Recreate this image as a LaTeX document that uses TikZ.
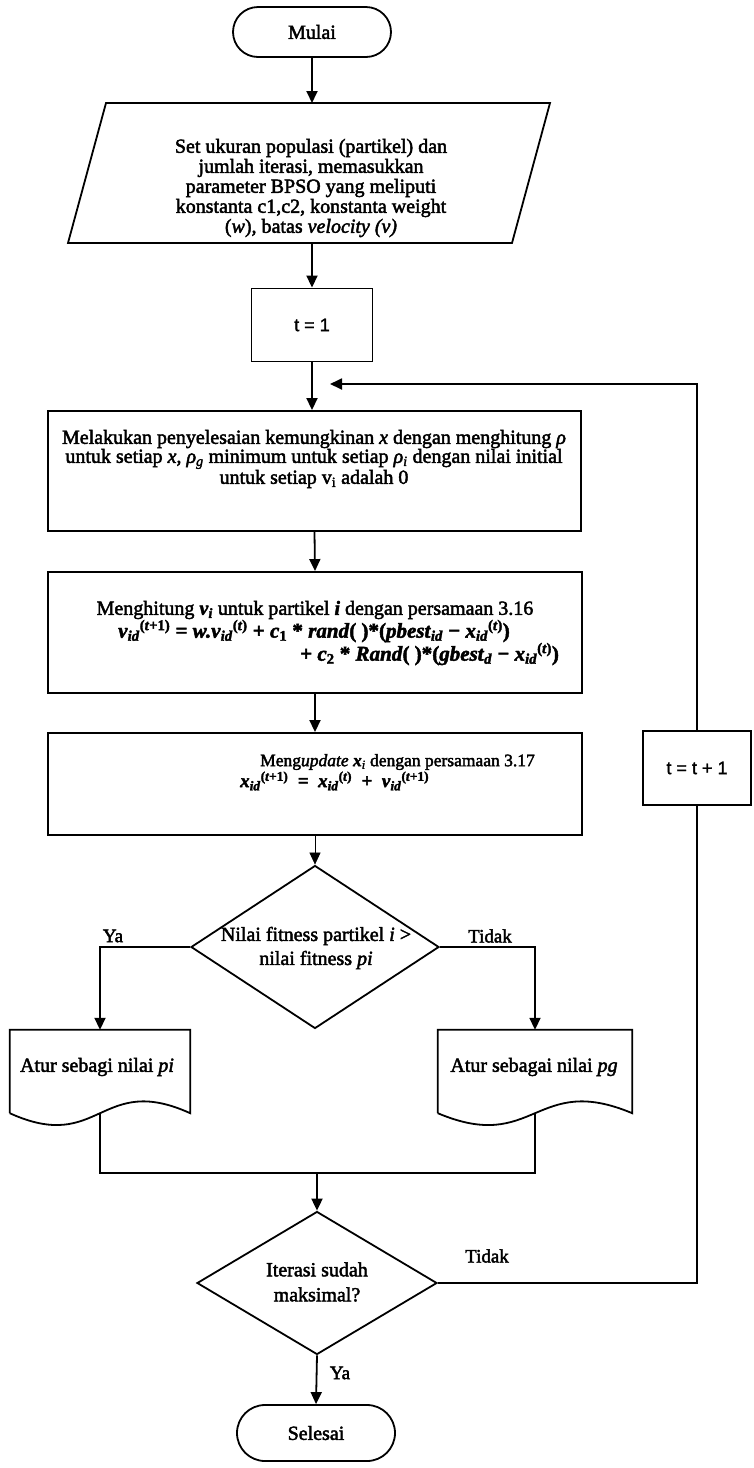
\documentclass[tikz,border=0pt]{standalone}
\usepackage{fontspec}
\setmainfont{Liberation Serif}[FakeBold=2.2]
\newfontfamily\sansA{Liberation Sans}[FakeBold=1.5]
\usetikzlibrary{shapes.geometric,shapes.misc,arrows.meta,calc}
\newcommand\bi[1]{\textbf{\textit{#1}}}
\newcommand\lo[1]{\textsubscript{#1}}
\newcommand\hi[1]{\textsuperscript{#1}}
\begin{document}
\begin{tikzpicture}[x=1pt,y=-1pt,
  ln/.style={line width=1.8pt},
  arr/.style={ln,-{Triangle[length=12pt,width=11pt]}},
  thinarr/.style={line width=0.6pt,-{Triangle[length=12pt,width=11pt]}},
  box/.style={draw,line width=1.9pt,rectangle,inner sep=0pt},
  term/.style={draw,line width=1.8pt,rounded rectangle,inner sep=0pt,minimum width=158pt,minimum height=50pt,font=\fontsize{20}{20}\selectfont},
  dec/.style={draw,diamond,line width=1.8pt,inner sep=0pt},
  txt/.style={inner sep=0pt,align=center,font=\fontsize{20}{20}\selectfont},
  lbl/.style={inner sep=0pt,font=\fontsize{19}{19}\selectfont},
  sans/.style={font=\sansA\fontsize{18}{18}\selectfont}
]
\useasboundingbox (0,0) rectangle (754,1468);
\fill[white] (0,0) rectangle (754,1468);

% start
\node[term] (start) at (312,32) {Mulai};

% input parallelogram
\draw[ln] (106,103) -- (550,103) -- (512,243) -- (68,243) -- cycle;
\coordinate (pin) at (312,103);
\coordinate (pout) at (312,243);
\node[txt] (ptext) at (311,188) {Set ukuran populasi (partikel) dan\\jumlah iterasi, memasukkan\\parameter BPSO yang meliputi\\konstanta c1,c2, konstanta weight\\(\textit{w}), batas \textit{velocity (v)}};

% t = 1
\node[box,sans,minimum width=121pt,minimum height=73pt] (t1) at (312,325) {t = 1};

% box 3
\node[box,minimum width=533pt,minimum height=120pt] (b3) at (314.5,471) {};
\node[txt,font=\fontsize{20}{19}\selectfont] (b3t) at (314,459) {Melakukan penyelesaian kemungkinan \textit{x} dengan menghitung \textit{ρ}\\
untuk setiap \textit{x}, \textit{ρ}\lo{\textit{g}} minimum untuk setiap \textit{ρ}\lo{\textit{i}} dengan nilai initial\\
untuk setiap v\lo{i} adalah 0};

% box 4
\node[box,minimum width=534pt,minimum height=121pt] (b4) at (315,632.5) {};
\node[txt] (b4a) at (315,610) {Menghitung \bi{v}\lo{\bi{i}} untuk partikel \bi{i} dengan persamaan 3.16};
\node[txt,font=\fontsize{21}{21}\selectfont] (b4b) at (314,631) {\textbf{\textit{v}\lo{\textit{id}}\hi{(\textit{t}+1)} = \textit{w.v}\lo{\textit{id}}\hi{(\textit{t})} + \textit{c}\lo{1} * \textit{rand}( )*(\textit{pbest}\lo{\textit{id}} − \textit{x}\lo{\textit{id}}\hi{(\textit{t})})}};
\node[txt,anchor=west,font=\fontsize{21}{21}\selectfont] (b4c) at (300,654) {\textbf{+ \textit{c}\lo{2} * \textit{Rand}( )*(\textit{gbest}\lo{\textit{d}} − \textit{x}\lo{\textit{id}}\hi{(\textit{t})})}};

% box 5
\node[box,minimum width=534pt,minimum height=102pt] (b5) at (315,784) {};
\node[txt,anchor=west,font=\fontsize{17.5}{18}\selectfont] (b5a) at (260,762) {Meng\textit{update} \bi{x}\lo{\textit{i}} dengan persamaan 3.17};
\node[txt,anchor=west,font=\fontsize{19}{19}\selectfont] (b5b) at (240,781) {\textbf{\textit{x}\lo{\textit{id}}\hi{(\textit{t}+1)}\enspace=\enspace\textit{x}\lo{\textit{id}}\hi{(\textit{t})}\enspace+\enspace\textit{v}\lo{\textit{id}}\hi{(\textit{t}+1)}}};

% decision 1
\node[dec,minimum width=248pt,minimum height=163pt] (dec1) at (315,947) {};
\node[txt,font=\fontsize{20}{24}\selectfont] (dec1t) at (316,948) {Nilai fitness partikel \textit{i} >\\nilai fitness \textit{pi}};

% documents
\node[minimum width=180pt,minimum height=83pt,inner sep=0pt] (d1) at (100,1071.5) {};
\node[minimum width=194pt,minimum height=83pt,inner sep=0pt] (d2) at (535,1071.5) {};
\foreach \d in {d1,d2}
  \draw[ln] (\d.south west) -- (\d.north west) -- (\d.north east) -- (\d.south east)
    .. controls ($(\d.south)+(0,-41)$) and ($(\d.south)+(0,41)$) .. (\d.south west);
\node[txt] (d1t) at (97,1067) {Atur sebagi nilai \textit{pi}};
\node[txt] (d2t) at (534,1067) {Atur sebagai nilai \textit{pg}};

% decision 2
\node[dec,minimum width=240pt,minimum height=143pt] (dec2) at (317,1283) {};
\node[txt,font=\fontsize{20}{25}\selectfont] (dec2t) at (317,1282) {Iterasi sudah\\maksimal?};

% end
\node[term,minimum height=56pt] (stop) at (316,1433) {Selesai};

% t = t + 1
\node[box,sans,minimum width=108pt,minimum height=74pt] (tt) at (697,768) {t = t + 1};

% connectors
\draw[arr] (start.south) -- (pin);
\draw[arr] (pout) -- (t1.north);
\draw[arr] (t1.south) -- (t1.south |- b3.north);
\draw[arr] (b3.south) -- (b4.north);
\draw[arr] (b4.south) -- (b4.south |- b5.north);
\draw[thinarr] (b5.south) -- (dec1.north);
\draw[arr] (dec1.west) -| (d1.north);
\draw[arr] (dec1.east) -| (d2.north);
\coordinate (m) at (317,1173);
\draw[ln] (d1.south) |- (m) -| (d2.south);
\draw[arr] (m) -- (dec2.north);
\draw[arr] (dec2.south) -- (stop.north);
\draw[ln] (dec2.east) -| (tt.south);
\coordinate (fb) at (330,384);
\draw[arr] (tt.north) |- (fb);

% labels
\node[lbl] (ya1) at (113,936) {Ya};
\node[lbl] (td1) at (490,936) {Tidak};
\node[lbl] (td2) at (487,1256) {Tidak};
\node[lbl] (ya2) at (340,1373) {Ya};
\end{tikzpicture}
\end{document}
